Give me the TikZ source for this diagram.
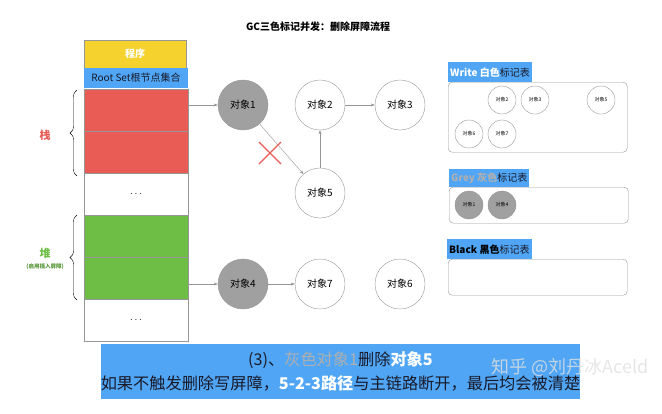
\documentclass[tikz,border=0pt]{standalone}
\usepackage{fontspec}
\setmainfont{Noto Sans CJK SC}
\usetikzlibrary{decorations.pathreplacing,arrows.meta}

\definecolor{progyellow}{RGB}{245,210,45}
\definecolor{rootblue}{RGB}{80,166,245}
\definecolor{stackred}{RGB}{233,92,86}
\definecolor{heapgreen}{RGB}{110,190,70}
\definecolor{objgrey}{RGB}{160,160,160}
\definecolor{linegrey}{RGB}{150,150,150}
\definecolor{softgrey}{RGB}{175,175,175}
\definecolor{inkdark}{RGB}{25,25,40}

\tikzset{
  obj/.style={circle, draw=linegrey, minimum size=50pt, inner sep=0pt, font=\fontsize{10}{12}\selectfont},
  greyobj/.style={obj, fill=objgrey},
  tinyobj/.style={circle, draw=linegrey, minimum size=28pt, inner sep=0pt, font=\fontsize{5}{6}\selectfont},
  tinygrey/.style={tinyobj, fill=objgrey},
  cell/.style={draw=linegrey, minimum width=104pt, minimum height=42pt, inner sep=0pt},
  link/.style={-{Stealth[length=4pt,width=3pt]}, linegrey},
  marktable/.style={draw=linegrey, rounded corners=4pt, anchor=north west, minimum width=179pt},
  tag/.style={fill=rootblue, anchor=north west, inner sep=2pt, minimum height=20pt, text=inkdark, font=\fontsize{10}{12}\selectfont}
}

\begin{document}
\begin{tikzpicture}[x=1pt,y=-1pt]
    \useasboundingbox (0,0) rectangle (662,413);
    \node[font=\bfseries\fontsize{10}{12}\selectfont] (title) at (318,27) {GC三色标记并发：删除屏障流程};

    % stack and heap column
    \node[fill=progyellow, draw=linegrey, minimum width=102pt, minimum height=28pt, text=white, font=\bfseries\fontsize{10}{12}\selectfont] (prog) at (135,54) {程序};
    \node[fill=rootblue, minimum width=104pt, minimum height=20pt, inner sep=0pt, text=inkdark, font=\fontsize{10}{12}\selectfont] (root) at (136,78) {Root Set根节点集合};
    \node[cell, fill=stackred] (red1) at (136,110) {};
    \node[cell, fill=stackred] (red2) at (136,152) {};
    \node[cell] (dots1) at (136,194) {$\cdots$};
    \node[cell, fill=heapgreen] (green1) at (136,236) {};
    \node[cell, fill=heapgreen] (green2) at (136,278) {};
    \node[cell] (dots2) at (136,320) {$\cdots$};

    \draw[decorate, decoration={brace, amplitude=7pt}] (77,176) -- (77,90);
    \draw[decorate, decoration={brace, amplitude=7pt}] (77,300) -- (77,215);
    \node[text=stackred, font=\bfseries\fontsize{11}{13}\selectfont] (stacklbl) at (45,135) {栈};
    \node[text=heapgreen, font=\bfseries\fontsize{11}{13}\selectfont] (heaplbl) at (45,253) {堆};
    \node[text=heapgreen!80!black, font=\bfseries\fontsize{5.5}{6}\selectfont] (heapnote) at (45,267) {(启用插入屏障)};

    % objects
    \node[greyobj] (obj1) at (243,105) {对象1};
    \node[obj] (obj2) at (320,105) {对象2};
    \node[obj] (obj3) at (400,105) {对象3};
    \node[obj] (obj5) at (320,193) {对象5};
    \node[greyobj] (obj4) at (243,284) {对象4};
    \node[obj] (obj7) at (320,284) {对象7};
    \node[obj] (obj6) at (400,284) {对象6};

    \draw[link] (red1.east |- obj1) -- (obj1);
    \draw[link] (green2.east |- obj4) -- (obj4);
    \draw[link] (obj1) -- (obj5);
    \draw[link] (obj5) -- (obj2);
    \draw[link] (obj2) -- (obj3);
    \draw[link] (obj4) -- (obj7);

    \coordinate (cut) at (270,153);
    \draw[stackred, line width=1.3pt] ([shift={(-11,-11)}]cut) -- ([shift={(11,11)}]cut);
    \draw[stackred, line width=1.3pt] ([shift={(-11,11)}]cut) -- ([shift={(11,-11)}]cut);

    % mark tables
    \node[tag] (whitetag) at (448,62) {\textcolor{white}{\bfseries Write 白色}标记表};
    \node[marktable, minimum height=70pt] (whitetab) at (448,82) {};
    \node[tinyobj] (w2) at (502,100) {对象2};
    \node[tinyobj] (w3) at (535,100) {对象3};
    \node[tinyobj] (w5) at (601,100) {对象5};
    \node[tinyobj] (w6) at (469,134) {对象6};
    \node[tinyobj] (w7) at (502,134) {对象7};

    \node[tag, minimum height=18pt] (greytag) at (449,169) {\textcolor{softgrey}{\bfseries Grey 灰色}标记表};
    \node[marktable, minimum height=36pt] (greytab) at (449,187) {};
    \node[tinygrey] (g1) at (469,205) {对象1};
    \node[tinygrey] (g4) at (502,205) {对象4};

    \node[tag] (blacktag) at (447,239) {\textcolor{black}{\bfseries Black 黑色}标记表};
    \node[marktable, minimum height=36pt] (blacktab) at (448,259) {};

    % caption
    \node[fill=rootblue, minimum width=479pt, minimum height=55pt, inner sep=0pt, align=center, text=inkdark, font=\fontsize{16.2}{24}\selectfont] (caption) at (340.5,371.5)
        {(3)、\textcolor{softgrey}{灰色对象1}删除\textcolor{white}{\bfseries 对象5}\\
         如果不触发删除写屏障，\textcolor{white}{\bfseries 5-2-3路径}与主链路断开，最后均会被清楚};
    \node[anchor=west, text=white!75!gray, opacity=0.8, font=\fontsize{18}{20}\selectfont] (mark) at (488,367) {知乎 @刘丹冰Aceld};
\end{tikzpicture}
\end{document}
